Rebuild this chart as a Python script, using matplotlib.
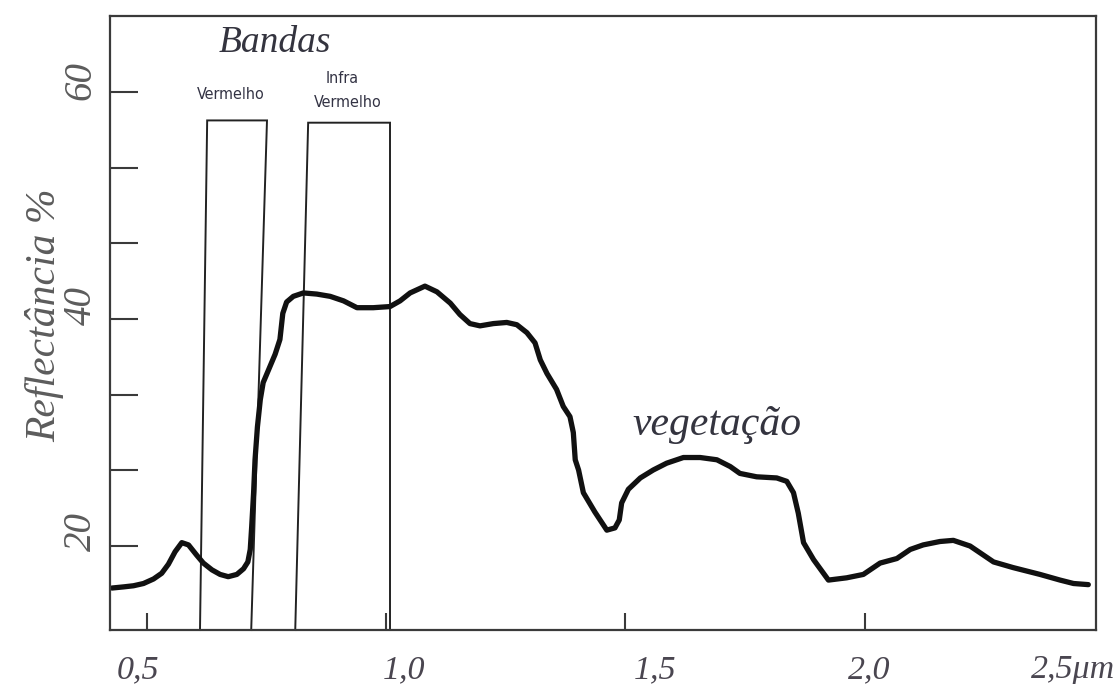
import numpy as np
import matplotlib.pyplot as plt
import matplotlib.transforms as mtransforms

# vegetation reflectance curve (wavelength in um, reflectance in %)
wavelength = [0.427, 0.451, 0.472, 0.493, 0.514, 0.531, 0.545, 0.559, 0.573, 0.587,
              0.604, 0.618, 0.636, 0.653, 0.670, 0.688, 0.702, 0.711, 0.716, 0.719,
              0.723, 0.726, 0.731, 0.737, 0.743, 0.754, 0.768, 0.778, 0.784, 0.792,
              0.806, 0.820, 0.827, 0.855, 0.883, 0.911, 0.939, 0.973, 1.008, 1.029,
              1.050, 1.081, 1.106, 1.134, 1.154, 1.175, 1.196, 1.224, 1.252, 1.273,
              1.294, 1.311, 1.322, 1.336, 1.356, 1.370, 1.384, 1.391, 1.395, 1.402,
              1.412, 1.436, 1.461, 1.478, 1.487, 1.492, 1.506, 1.531, 1.558, 1.586,
              1.621, 1.656, 1.691, 1.719, 1.739, 1.774, 1.816, 1.837, 1.851, 1.861,
              1.872, 1.893, 1.924, 1.962, 1.997, 2.011, 2.032, 2.067, 2.095, 2.122,
              2.157, 2.185, 2.220, 2.241, 2.269, 2.310, 2.366, 2.408, 2.436, 2.467]
reflectance = [16.3, 16.4, 16.5, 16.7, 17.1, 17.6, 18.4, 19.5, 20.3, 20.1,
               19.2, 18.5, 17.9, 17.5, 17.3, 17.5, 18.0, 18.6, 19.7, 21.7,
               24.7, 27.6, 30.5, 32.9, 34.4, 35.5, 36.9, 38.2, 40.5, 41.5,
               42.0, 42.2, 42.3, 42.2, 42.0, 41.6, 41.0, 41.0, 41.1, 41.6,
               42.3, 42.9, 42.4, 41.4, 40.4, 39.6, 39.4, 39.6, 39.7, 39.5,
               38.8, 37.9, 36.4, 35.2, 33.8, 32.3, 31.4, 30.0, 27.6, 26.7,
               24.7, 23.0, 21.4, 21.6, 22.3, 23.8, 25.0, 26.0, 26.7, 27.3,
               27.8, 27.8, 27.6, 27.0, 26.4, 26.1, 26.0, 25.7, 24.7, 22.9,
               20.3, 18.8, 17.0, 17.2, 17.5, 17.9, 18.5, 18.9, 19.7, 20.1,
               20.4, 20.5, 20.0, 19.4, 18.6, 18.1, 17.5, 17.0, 16.7, 16.6]

# bands (hand drawn, edges slightly slanted): x at top, x at bottom
red_top = [0.626, 0.751]
red_bottom = [0.611, 0.718]
red_height = 57.5
nir_top = [0.837, 1.008]
nir_bottom = [0.810, 1.008]
nir_height = 57.3

xticks = [0.5, 1.0, 1.5, 2.0]
xlabels = ['0,5', '1,0', '1,5', '2,0', '2,5\u03bcm']
xlabel_pos = [0.482, 1.037, 1.562, 2.009, 2.436]
yticks = [20, 20 + 20/3, 20 + 40/3, 40, 40 + 20/3, 40 + 40/3, 60]
ylabels = ['20', '40', '60']
ylabel_pos = [21.3, 41.2, 61.0]

serif = 'Liberation Serif'

fig = plt.figure(figsize=(11.18, 6.84), dpi=100)
ax = fig.add_axes([0.0984, 0.0789, 0.8819, 0.8977])
ax.set_xlim(0.423, 2.483)
ax.set_ylim(12.6, 66.7)

for s in ax.spines.values():
    s.set_color('#3a3a3a')
    s.set_linewidth(1.6)

ax.set_xticks(xticks)
ax.set_xticklabels([])
ax.set_yticks(yticks)
ax.set_yticklabels([])
ax.tick_params(axis='x', direction='in', length=12, width=1.5, color='#3a3a3a')
ax.tick_params(axis='y', direction='in', length=20, width=1.5, color='#3a3a3a')

# band rectangles
for top, bottom, h in [(red_top, red_bottom, red_height), (nir_top, nir_bottom, nir_height)]:
    ax.plot([bottom[0], top[0], top[1], bottom[1]], [12.6, h, h, 12.6],
            color='#222222', linewidth=1.4, clip_on=False, solid_joinstyle='miter')

# curve
ax.plot(wavelength, reflectance, color='#111111', linewidth=3.8,
        solid_joinstyle='round', solid_capstyle='round')

# texts
ax.text(0.649, 63.55, 'Bandas', family=serif, style='italic', fontsize=27,
        color='#34343f', ha='left', va='baseline')
small = dict(family='DejaVu Sans', stretch='condensed', fontsize=11.5,
             color='#333344', ha='center', va='baseline')
ax.text(0.676, 59.4, 'Vermelho', **small)
ax.text(0.908, 60.8, 'Infra', **small)
ax.text(0.919, 58.7, 'Vermelho', **small)
ax.text(1.514, 29.8, 'vegeta\u00e7\u00e3o', family=serif, style='italic', fontsize=30,
        color='#34343f', ha='left', va='baseline')

# tick labels
trans_x = mtransforms.blended_transform_factory(ax.transData, ax.transAxes)
for pos, lab in zip(xlabel_pos, xlabels):
    ax.text(pos, -0.065, lab, transform=trans_x, family=serif, style='italic',
            fontsize=24.5, color='#4a4650', ha='center', va='center', clip_on=False)
trans_y = mtransforms.blended_transform_factory(ax.transAxes, ax.transData)
for pos, lab in zip(ylabel_pos, ylabels):
    ax.text(-0.0294, pos, lab, transform=trans_y, family=serif, style='italic',
            fontsize=28, color='#5c5c5c', rotation=90, ha='center', va='center',
            clip_on=False)

ax.text(-0.066, 0.513, 'Reflect\u00e2ncia %', transform=ax.transAxes, family=serif,
        style='italic', fontsize=30, color='#5c5c5c', rotation=90,
        ha='center', va='center')

plt.savefig('out.png', dpi=100)
